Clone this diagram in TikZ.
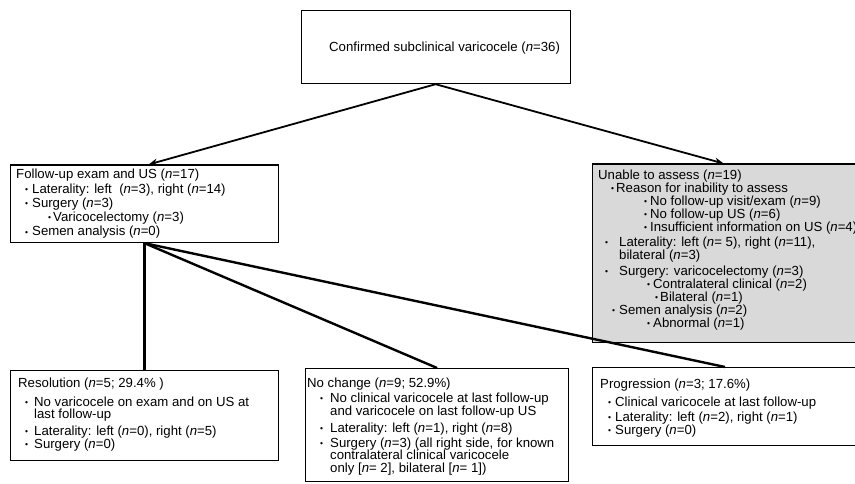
\documentclass[tikz,border=0pt]{standalone}
\usepackage{fontspec}
\setmainfont{Liberation Sans}
\usetikzlibrary{arrows.meta}
\newcommand\nn{\textit{n}}
\newcommand\bul{{\fontsize{8.5}{8.5}\selectfont\raisebox{0.9pt}{•}}}
% bullet offset, text offset, text
\newcommand\itm[3]{\makebox[#2][l]{\hspace*{#1}\bul}#3}
\tikzset{
  box/.style={draw, line width=1.2pt, inner sep=0pt, anchor=north west},
  txt/.style={inner sep=0pt, anchor=north west, align=left},
  arr/.style={-{Stealth[length=9pt,width=7pt]}, line width=1.8pt},
  link/.style={line width=2.4pt},
}
\begin{document}
\begin{tikzpicture}[x=1pt,y=-1pt]
\useasboundingbox (0,0) rectangle (855,484);
\clip (0,0) rectangle (855,484);
% boxes
\node[box, minimum width=269pt, minimum height=73pt] (top) at (300.5,10) {};
\node[box, minimum width=268pt, minimum height=77.5pt] (fu) at (10,164.5) {};
\node[box, fill=black!15, minimum width=280pt, minimum height=178pt] (un) at (592,163.5) {};
\node[box, minimum width=268pt, minimum height=90pt] (res) at (10,370) {};
\node[box, minimum width=263pt, minimum height=113pt] (nc) at (305,368) {};
\node[box, minimum width=280pt, minimum height=78pt] (prog) at (592,367) {};
% texts
\node[txt, font=\fontsize{13.2}{14}\selectfont] (toptxt) at (329,42) {Confirmed subclinical varicocele (\nn=36)};
\node[txt, font=\fontsize{13.2}{14.3}\selectfont] (futxt) at (16,169) {Follow-up exam and US (\nn=17)\\
  \itm{9pt}{16pt}{Laterality: left~ (\nn=3), right (\nn=14)}\\
  \itm{9pt}{16pt}{Surgery (\nn=3)}\\
  \itm{32pt}{37pt}{Varicocelectomy (\nn=3)}\\
  \itm{9pt}{16pt}{Semen analysis (\nn=0)}};
\node[txt, font=\fontsize{13.2}{13}\selectfont] (untxt) at (598,170) {Unable to assess (\nn=19)\\
  \itm{13pt}{18pt}{Reason for inability to assess}\\
  \itm{46pt}{52pt}{No follow-up visit/exam (\nn=9)}\\
  \itm{46pt}{52pt}{No follow-up US (\nn=6)}\\
  \itm{46pt}{52pt}{Insufficient information on US (\nn=4)}\\[2pt]
  \itm{7pt}{21pt}{Laterality: left (\nn= 5), right (\nn=11),}\\
  \hspace*{21pt}bilateral (\nn=3)\\[3pt]
  \itm{7pt}{21pt}{Surgery: varicocelectomy (\nn=3)}\\
  \itm{49pt}{55pt}{Contralateral clinical (\nn=2)}\\
  \itm{57pt}{62pt}{Bilateral (\nn=1)}\\
  \itm{14pt}{21pt}{Semen analysis (\nn=2)}\\
  \itm{49pt}{55pt}{Abnormal (\nn=1)}};
\node[txt, font=\fontsize{13.2}{12.5}\selectfont] (restxt) at (18,378) {Resolution (\nn=5; 29.4\% )\\[6pt]
  \itm{7pt}{16pt}{No varicocele on exam and on US at}\\
  \hspace*{16pt}last follow-up\\[4.5pt]
  \itm{7pt}{16pt}{Laterality: left (\nn=0), right (\nn=5)}\\
  \itm{7pt}{16pt}{Surgery (\nn=0)}};
\node[txt, font=\fontsize{13.2}{12.5}\selectfont] (nctxt) at (307,378) {No change (\nn=9; 52.9\%)\\[2.5pt]
  \itm{13pt}{23pt}{No clinical varicocele at last follow-up}\\
  \hspace*{23pt}and varicocele on last follow-up US\\[4.5pt]
  \itm{13pt}{23pt}{Laterality: left (\nn=1), right (\nn=8)}\\[2.5pt]
  \itm{13pt}{23pt}{Surgery (\nn=3) (all right side, for known}\\
  \hspace*{23pt}contralateral clinical varicocele\\
  \hspace*{23pt}only [\nn= 2], bilateral [\nn= 1])};
\node[txt, font=\fontsize{13.2}{12.5}\selectfont] (progtxt) at (600,379) {Progression (\nn=3; 17.6\%)\\[5.5pt]
  \itm{8pt}{15pt}{Clinical varicocele at last follow-up}\\[2.5pt]
  \itm{8pt}{15pt}{Laterality: left (\nn=2), right (\nn=1)}\\
  \itm{8pt}{15pt}{Surgery (\nn=0)}};
% connectors
\draw[arr] (top.south) -- ([xshift=4pt]fu.north);
\draw[arr] (top.south) -- ([xshift=-9pt]un.north);
\draw[link] (fu.south) -- (res.north);
\draw[link] (fu.south) -- (nc.north);
\draw[link] (fu.south) -- ([xshift=133pt]prog.north west);
\end{tikzpicture}
\end{document}
